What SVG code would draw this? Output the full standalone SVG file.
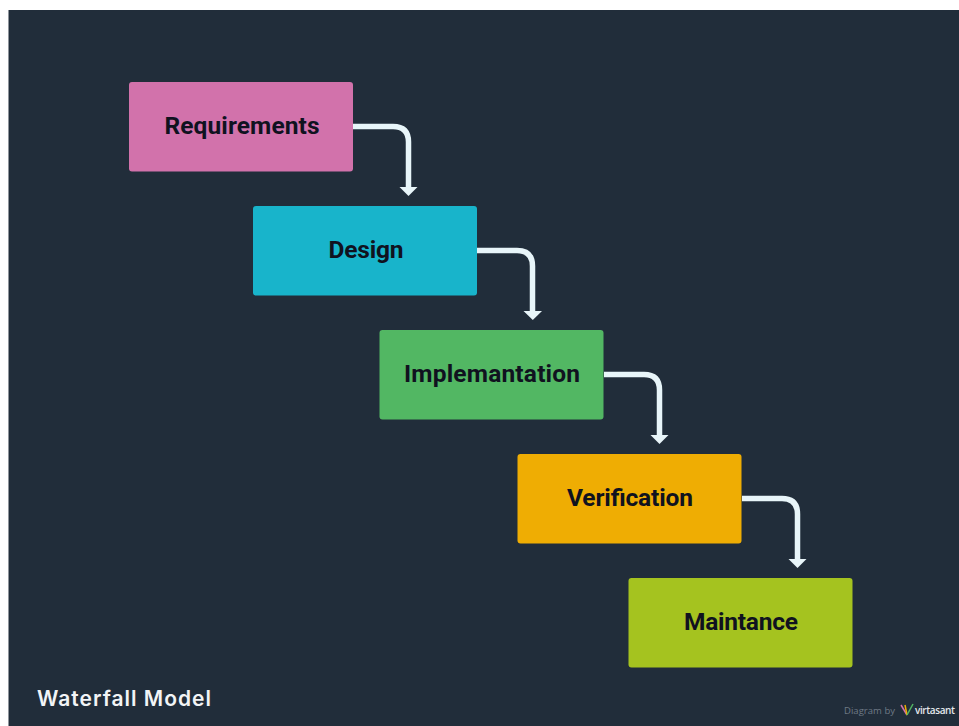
<svg xmlns="http://www.w3.org/2000/svg" width="959" height="726" viewBox="0 0 959 726">
<style>
.box{stroke:none}
.lbl{font-family:Roboto,"DejaVu Sans",sans-serif;font-weight:700;font-size:24.500px;fill:#10121f;text-anchor:middle}
.con{fill:none;stroke:#e8f5f9;stroke-width:5.500}
.tip{fill:#e8f5f9}
</style>
<rect width="959" height="726" fill="#fff"/>
<rect x="8.500" y="10" width="950.500" height="716" fill="#212d3a"/>
<g id="connectors">
<path class="con" d="M353 126.500H393Q408.500 126.500 408.500 142V188"/><path class="tip" d="M399.500 187H417.500L408.500 196Z"/>
<path class="con" d="M477 250.500H517Q532.500 250.500 532.500 266V312"/><path class="tip" d="M523.500 311H542L532.800 320Z"/>
<path class="con" d="M604 374.500H644Q659.500 374.500 659.500 390V436"/><path class="tip" d="M650.500 435H668.500L659.500 444Z"/>
<path class="con" d="M742 498.500H782Q797.500 498.500 797.500 514V560"/><path class="tip" d="M788.500 559H806.500L797.500 568Z"/>
</g>
<g id="requirements"><rect class="box" x="129" y="82" width="224" height="89.500" rx="3" fill="#d272ab"/><text class="lbl" x="242" y="134" textLength="155">Requirements</text></g>
<g id="design"><rect class="box" x="253" y="206" width="224" height="89.500" rx="3" fill="#18b4cb"/><text class="lbl" x="366" y="258" textLength="75">Design</text></g>
<g id="implementation"><rect class="box" x="379.500" y="330" width="224" height="89.500" rx="3" fill="#52b763"/><text class="lbl" x="492" y="382" textLength="176">Implemantation</text></g>
<g id="verification"><rect class="box" x="517.500" y="454" width="224" height="89.500" rx="3" fill="#efad03"/><text class="lbl" x="630" y="506" textLength="126">Verification</text></g>
<g id="maintance"><rect class="box" x="628.500" y="578" width="224" height="89.500" rx="3" fill="#a5c31f"/><text class="lbl" x="741" y="630" textLength="114">Maintance</text></g>
<text x="37" y="706" font-family="Inter,'Open Sans',sans-serif" font-weight="600" font-size="21" fill="#f2f4f6" textLength="174">Waterfall Model</text>
<text x="844" y="714" font-family="'Open Sans',sans-serif" font-size="9.500" fill="#6f7a86" textLength="51">Diagram by</text>
<text x="915" y="714" font-family="'Open Sans',sans-serif" font-weight="600" font-size="10" fill="#e4e8ec" textLength="40">virtasant</text>
<g fill="none" stroke-width="1.500"><path d="M901 705L907 715" stroke="#d272ab"/><path d="M905 705L907 715" stroke="#efad03"/><path d="M913 704L907 715" stroke="#52b763"/></g>
</svg>
